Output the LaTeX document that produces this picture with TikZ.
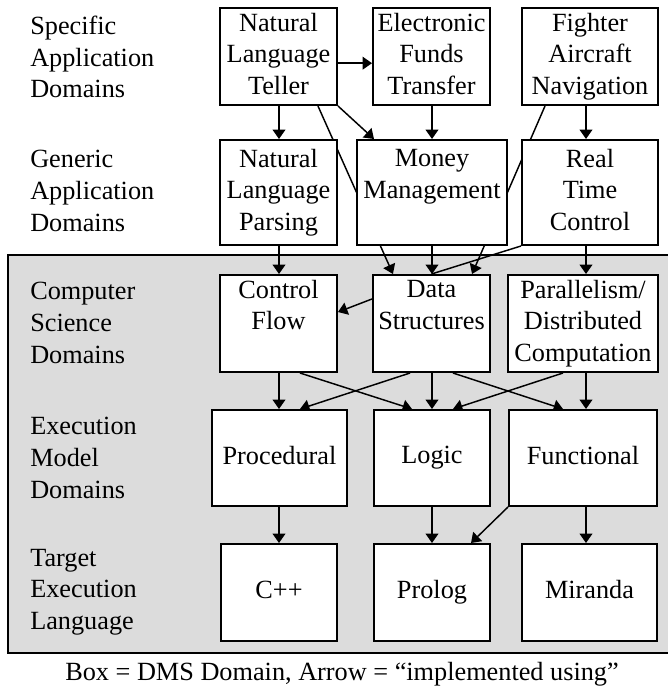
\documentclass[tikz,border=0pt]{standalone}
\usepackage{fontspec}
\setmainfont{Liberation Serif}
\usepackage{xcolor}
\usetikzlibrary{arrows.meta,positioning,calc,backgrounds}
\definecolor{shade}{HTML}{DCDCDC}

\begin{document}
\begin{tikzpicture}[x=0.75pt, y=-0.75pt,
  box/.style={draw, line width=1.5pt, fill=white, align=center, inner sep=0pt,
    font=\fontsize{19.7}{23.8}\selectfont,
    execute at begin node=\vphantom{Ag}, execute at end node=\vphantom{Ag}},
  lbl/.style={anchor=west, align=left, inner sep=0pt, font=\fontsize{19.7}{23.8}\selectfont},
  arr/.style={line width=1.1pt, -{Triangle[length=7pt, width=9.5pt]}}]
  \useasboundingbox (0,0) rectangle (667,688);

  % row labels
  \node[lbl] (lspec) at (30,57) {Specific\\Application\\Domains};
  \node[lbl] (lgen) at (30,191) {Generic\\Application\\Domains};
  \node[lbl] (lcs) at (30,323) {Computer\\Science\\Domains};
  \node[lbl] (lexe) at (30,458) {Execution\\Model\\Domains};
  \node[lbl] (ltgt) at (30,592) {Target\\Execution\\Language};

  % domain boxes
  \node[box, minimum width=87.75pt, minimum height=72.75pt] (nlt) at (278.5,56.5) {Natural\\Language\\Teller};
  \node[box, minimum width=87.75pt, minimum height=72.75pt] (eft) at (431.5,56.5) {Electronic\\Funds\\Transfer};
  \node[box, minimum width=102pt, minimum height=72.75pt] (fan) at (590,56.5) {Fighter\\Aircraft\\Navigation};

  \node[box, minimum width=87.75pt, minimum height=78.75pt] (nlp) at (278.5,192.5) {Natural\\Language\\Parsing};
  \node[box, minimum width=112.5pt, minimum height=78.75pt] (mm) at (432,192.5) {Money\\Management\\};
  \node[box, minimum width=102pt, minimum height=78.75pt] (rtc) at (590,192.5) {Real\\Time\\Control};

  \node[box, minimum width=87.75pt, minimum height=72.75pt] (cf) at (278.5,323.5) {Control\\Flow\\};
  \node[box, minimum width=87.75pt, minimum height=72.75pt] (ds) at (431.5,323.5) {Data\\Structures\\};
  \node[box, minimum width=112.5pt, minimum height=72.75pt] (pdc) at (583,323.5) {Parallelism/\\Distributed\\Computation};

  \node[box, minimum width=101.25pt, minimum height=72pt] (proc) at (279.5,458) {Procedural};
  \node[box, minimum width=87pt, minimum height=72pt] (logic) at (432,458) {Logic};
  \node[box, minimum width=111pt, minimum height=72pt] (func) at (583,458) {Functional};

  \node[box, minimum width=87pt, minimum height=72.75pt] (cpp) at (279,592.5) {C++};
  \node[box, minimum width=87pt, minimum height=72.75pt] (prolog) at (432,592.5) {Prolog};
  \node[box, minimum width=101.25pt, minimum height=72.75pt] (mir) at (589.5,592.5) {Miranda};

  \node[inner sep=0pt, font=\fontsize{19.7}{23.8}\selectfont] (caption) at (342,674)
    {Box = DMS Domain, Arrow = “implemented using”};

  \coordinate (c1) at (279,0);
  \coordinate (c2) at (432,0);
  \coordinate (c3) at (586,0);

  \begin{scope}[on background layer]
    \draw[line width=1.5pt, fill=shade] (8,255) rectangle (680,653);
    % straight down
    \foreach \a/\b/\c in {nlt/nlp/c1, eft/mm/c2, fan/rtc/c3, nlp/cf/c1, mm/ds/c2, rtc/pdc/c3,
        cf/proc/c1, ds/logic/c2, pdc/func/c3, proc/cpp/c1, logic/prolog/c2, func/mir/c3}
      \draw[arr] (\a.south -| \c) -- (\b.north -| \c);
    % across
    \draw[arr] ([yshift=-5pt]nlt.east) -- ([yshift=-5pt]eft.west);
    \draw[arr] (nlt.south east) -- ([xshift=13.5pt]mm.north west);
    \draw[arr] ([xshift=29.6pt]nlt.south) -- ([xshift=-28.9pt]ds.north);
    \draw[arr] ([xshift=-33.75pt]fan.south) -- ([xshift=30.4pt]ds.north);
    \draw[line width=1.1pt] (rtc.south west) -- (ds.north);
    \draw[arr] ([yshift=18.4pt]ds.west) -- ([yshift=8.6pt]cf.east);
    \draw[arr] ([xshift=16.1pt]cf.south) -- ([xshift=-15pt]logic.north);
    \draw[arr] ([xshift=-16.1pt]ds.south) -- ([xshift=15.4pt]proc.north);
    \draw[arr] ([xshift=16.1pt]ds.south) -- ([xshift=-15pt]func.north);
    \draw[arr] ([xshift=-15pt]pdc.south) -- ([xshift=15.75pt]logic.north);
    \draw[arr] (func.south west) -- ([xshift=29.25pt]prolog.north);
  \end{scope}
\end{tikzpicture}
\end{document}
